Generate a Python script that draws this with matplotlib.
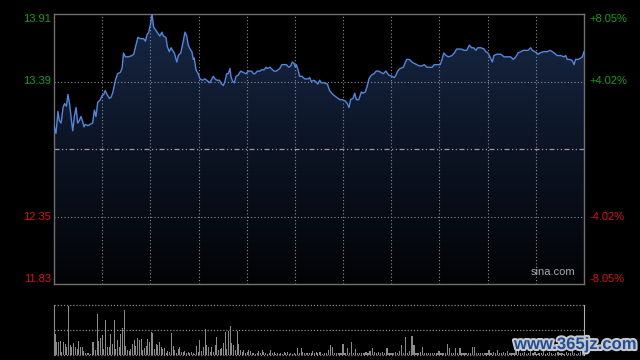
#分时图
import numpy as np
import matplotlib.pyplot as plt
import matplotlib.patheffects as pe
from matplotlib.colors import LinearSegmentedColormap

plt.rcParams['font.family'] = ['Liberation Sans', 'DejaVu Sans']

#价格 (分钟, 价格)
minutes = [0, 0.9, 1.8, 2.4, 3.2, 4.1, 4.8, 5.6, 6.3, 7.1, 7.9, 8.5, 9.2, 10.0, 10.7, 11.5, 12.2, 13.0, 13.6, 14.2,
           15.4, 16.4, 17.5, 18.3, 19.0, 19.8, 21.0, 21.7, 22.5, 23.2, 24.0, 25.1, 25.9, 26.7, 27.8, 28.8, 30.0, 30.8, 31.5, 32.3,
           33.8, 35.3, 36.1, 36.8, 38.0, 39.1, 40.6, 41.4, 42.1, 42.9, 43.8, 44.4, 45.1, 45.9, 47.1, 47.9, 48.9, 49.5, 50.7, 51.3,
           52.2, 53.0, 53.7, 54.5, 55.6, 56.3, 57.4, 58.3, 59.3, 60.1, 60.8, 61.6, 62.4, 63.1, 63.5, 64.3, 65.3, 66.1, 67.3, 68.4,
           69.1, 70.6, 72.1, 72.9, 73.7, 74.9, 75.9, 76.7, 77.4, 78.2, 78.9, 79.7, 80.1, 80.9, 81.7, 82.4, 83.5, 84.5, 85.7, 86.9,
           88.0, 89.5, 90.3, 91.0, 92.1, 93.3, 94.0, 95.1, 96.0, 96.6, 97.8, 99.6, 100.7, 102.2, 103.2, 105.2, 106.3, 107.2, 107.9, 108.7,
           109.3, 109.7, 110.5, 111.2, 112.3, 113.5, 115.0, 115.8, 116.5, 117.7, 118.5, 119.5, 120.3, 121.0, 122.3, 123.8, 124.8, 126.3, 127.8, 129.4,
           130.4, 131.9, 132.8, 133.6, 134.3, 135.4, 136.2, 136.9, 138.0, 139.2, 139.9, 141.0, 141.9, 142.6, 143.7, 144.9, 145.9, 147.0, 148.1, 149.1,
           150.3, 151.5, 153.0, 154.1, 154.9, 155.6, 156.7, 158.2, 159.7, 160.9, 162.1, 163.1, 164.2, 165.4, 166.6, 167.7, 168.8, 169.9, 171.2, 172.2,
           173.7, 174.9, 175.7, 176.5, 177.5, 178.7, 180.2, 181.3, 182.3, 184.3, 185.8, 186.9, 188.1, 189.1, 190.0, 191.1, 191.8, 193.3, 194.8, 195.5,
           196.5, 197.4, 198.5, 199.2, 200.5, 202.3, 203.8, 205.3, 206.8, 208.0, 209.1, 210.1, 211.4, 212.5, 213.6, 214.6, 215.9, 216.6, 217.7, 218.6,
           219.3, 220.1, 221.6, 223.4, 224.6, 225.7, 226.4, 227.9, 229.4, 230.9, 231.7, 232.4, 233.6, 234.7, 235.5, 236.2, 237.3, 238.5, 239.3, 240.0]
prices = [13.05, 12.99, 13.16, 13.09, 13.07, 13.19, 13.22, 13.20, 13.29, 13.21, 13.09, 13.01, 13.12, 13.19, 13.07, 13.09, 13.12, 13.08, 13.04, 13.06,
          13.05, 13.06, 13.07, 13.17, 13.12, 13.23, 13.25, 13.28, 13.29, 13.32, 13.29, 13.26, 13.27, 13.31, 13.40, 13.45, 13.46, 13.49, 13.61, 13.58,
          13.58, 13.59, 13.60, 13.65, 13.73, 13.72, 13.72, 13.70, 13.75, 13.77, 13.84, 13.91, 13.81, 13.79, 13.76, 13.74, 13.77, 13.74, 13.73, 13.66,
          13.62, 13.65, 13.63, 13.61, 13.54, 13.59, 13.61, 13.68, 13.77, 13.74, 13.67, 13.64, 13.62, 13.56, 13.57, 13.48, 13.45, 13.41, 13.40, 13.41,
          13.40, 13.38, 13.43, 13.41, 13.40, 13.40, 13.37, 13.36, 13.39, 13.45, 13.45, 13.49, 13.43, 13.39, 13.38, 13.43, 13.44, 13.47, 13.46, 13.45,
          13.47, 13.47, 13.45, 13.45, 13.47, 13.47, 13.48, 13.48, 13.50, 13.49, 13.50, 13.47, 13.47, 13.49, 13.52, 13.52, 13.50, 13.51, 13.54, 13.53,
          13.50, 13.52, 13.48, 13.43, 13.43, 13.41, 13.41, 13.42, 13.39, 13.40, 13.39, 13.37, 13.40, 13.38, 13.38, 13.37, 13.32, 13.29, 13.27, 13.25,
          13.25, 13.24, 13.22, 13.19, 13.25, 13.26, 13.30, 13.25, 13.25, 13.31, 13.30, 13.31, 13.36, 13.41, 13.44, 13.45, 13.47, 13.47, 13.46, 13.45,
          13.47, 13.44, 13.43, 13.42, 13.44, 13.47, 13.49, 13.50, 13.56, 13.56, 13.54, 13.53, 13.52, 13.51, 13.51, 13.52, 13.50, 13.50, 13.50, 13.52,
          13.52, 13.52, 13.56, 13.61, 13.59, 13.58, 13.59, 13.61, 13.64, 13.64, 13.63, 13.63, 13.67, 13.65, 13.65, 13.63, 13.65, 13.65, 13.64, 13.62,
          13.61, 13.58, 13.54, 13.59, 13.60, 13.60, 13.58, 13.58, 13.58, 13.56, 13.58, 13.61, 13.62, 13.63, 13.63, 13.63, 13.65, 13.63, 13.62, 13.61,
          13.60, 13.61, 13.62, 13.62, 13.63, 13.62, 13.61, 13.59, 13.59, 13.58, 13.59, 13.56, 13.56, 13.55, 13.52, 13.56, 13.56, 13.57, 13.58, 13.62]

#成交量 (上午, 下午)
vol_am = [42, 26, 27, 28, 7, 26, 22, 17, 98, 20, 16, 24, 16, 12, 28, 17, 16, 9, 5, 4,
          5, 3, 27, 27, 11, 82, 29, 34, 40, 12, 70, 17, 16, 43, 22, 71, 12, 30, 16, 43,
          55, 91, 18, 11, 9, 12, 22, 30, 18, 34, 30, 32, 11, 14, 18, 32, 27, 47, 45, 12,
          22, 20, 26, 16, 12, 14, 5, 9, 7, 45, 18, 11, 5, 12, 16, 7, 7, 9, 5, 7,
          4, 7, 4, 3, 18, 7, 30, 9, 16, 53, 20, 16, 7, 16, 7, 20, 37, 11, 12, 14,
          25, 47, 12, 49, 58, 25, 20, 11, 49, 22, 11, 7, 11, 4, 7, 11, 9, 4, 5, 3,
          4, 9, 4, 11, 7, 4, 3, 4, 11, 4, 7, 3, 5, 3, 4, 2, 7, 4, 6, 3,
          4, 3, 4, 3, 14, 5, 14, 7, 5, 4, 5, 4, 5, 9, 4, 7, 4]
vol_pm = [7, 3, 4, 5, 11, 20, 16, 4, 5, 4, 5, 22, 5, 14, 5, 26, 5, 12, 5, 4,
          5, 4, 7, 5, 9, 14, 7, 5, 7, 4, 7, 5, 14, 5, 4, 5, 7, 4, 9, 20,
          5, 36, 5, 9, 38, 20, 5, 4, 7, 16, 5, 4, 5, 4, 5, 4, 5, 9, 4, 5,
          4, 22, 14, 4, 5, 14, 4, 14, 4, 5, 4, 5, 4, 16, 17, 5, 4, 5, 4, 5,
          4, 11, 4, 7, 5, 11, 5, 4, 7, 4, 9, 4, 5, 4, 9, 14,
          5, 4, 7, 3, 5, 9, 4, 6, 3, 5, 4, 8, 3, 4, 6, 5, 3, 4, 7, 5,
          4, 3, 6, 4, 5, 8, 4, 3, 5, 6, 12]

y_low, y_high, prev_close = 11.83, 13.91, 12.87
left_labels = ['13.91', '13.39', '12.35', '11.83']
left_values = [13.91, 13.39, 12.35, 11.83]
right_labels = ['+8.05%', '+4.02%', '-4.02%', '-8.05%']

grid_c = '#8c8c8c'
green = '#10a010'
red = '#d81010'

fig = plt.figure(figsize=(6.4, 3.6), dpi=100, facecolor='black')
ax = fig.add_axes([54 / 640, 76 / 360, 530 / 640, 270 / 360])
ax.set_facecolor('black')
ax.set_xlim(0, 240)
ax.set_ylim(y_low, y_high)

#渐变填充
cmap = LinearSegmentedColormap.from_list('fill', ['#020305', '#0c1424', '#172845'])
grad = np.linspace(0, 1, 256).reshape(-1, 1)
im = ax.imshow(grad, extent=[0, 240, y_low, y_high], origin='lower', aspect='auto', cmap=cmap, zorder=1)
poly = ax.fill_between(minutes, prices, y_low, color='none', lw=0)
im.set_clip_path(poly.get_paths()[0], transform=ax.transData)

#网格
for i in range(1, 11):
    ax.axvline(i * 240 / 11, color=grid_c, lw=0.8, ls=(0, (1, 2)), zorder=2)
for v in [13.39, 12.35]:
    ax.axhline(v, color=grid_c, lw=0.8, ls=(0, (1, 2)), zorder=2)
ax.axhline(prev_close, color='#9a9a9a', lw=0.9, ls=(0, (4, 2, 1, 2, 1, 2)), zorder=2)

ax.plot(minutes, prices, color='#4f88e0', lw=1.0, zorder=3)

for s in ax.spines.values():
    s.set_color('#707070')
    s.set_linewidth(1)
ax.set_xticks([])
ax.set_yticks([])

#坐标标签
trans = ax.get_yaxis_transform()
vas = ['top', 'center', 'center', 'bottom']
for lab, rlab, v, va in zip(left_labels, right_labels, left_values, vas):
    c = green if v > prev_close else red
    ax.text(-0.006, v, lab, transform=trans, ha='right', va=va, color=c, fontsize=8)
    ax.text(1.011, v, rlab, transform=trans, ha='left', va=va, color=c, fontsize=8)

ax.text(0.983, 0.025, 'sina.com', transform=ax.transAxes, ha='right', va='bottom',
        color='#a8a8a8', fontsize=8, zorder=4)

#成交量
vax = fig.add_axes([54 / 640, 5 / 360, 530 / 640, 50 / 360])
vax.set_facecolor('black')
vax.set_xlim(0, 240)
vax.set_ylim(0, 100)
x_am = np.linspace(0.5, 119.5, len(vol_am))
x_pm = np.linspace(120.5, 239.5, len(vol_pm))
vax.bar(x_am, vol_am, width=0.45, color='#8a8a8a', lw=0)
vax.bar(x_pm, vol_pm, width=0.6, color='#8a8a8a', lw=0)
for v in [0, 50, 100]:
    vax.axhline(v, color=grid_c, lw=0.9, ls=(0, (1, 1.5)), clip_on=False)
vax.spines['top'].set_visible(False)
vax.spines['bottom'].set_visible(False)
vax.spines['left'].set_color('#8a8a8a')
vax.spines['right'].set_color('#b0b0b0')
vax.set_xticks([])
vax.set_yticks([])

#水印
fig.text(636 / 640, 8 / 360, 'www.365jz.com', ha='right', va='bottom', color='#1f4f9c',
         fontsize=12, fontweight='bold',
         path_effects=[pe.withStroke(linewidth=3, foreground='#c8c8c8')])

fig.savefig('out.png', dpi=100, facecolor='black')
